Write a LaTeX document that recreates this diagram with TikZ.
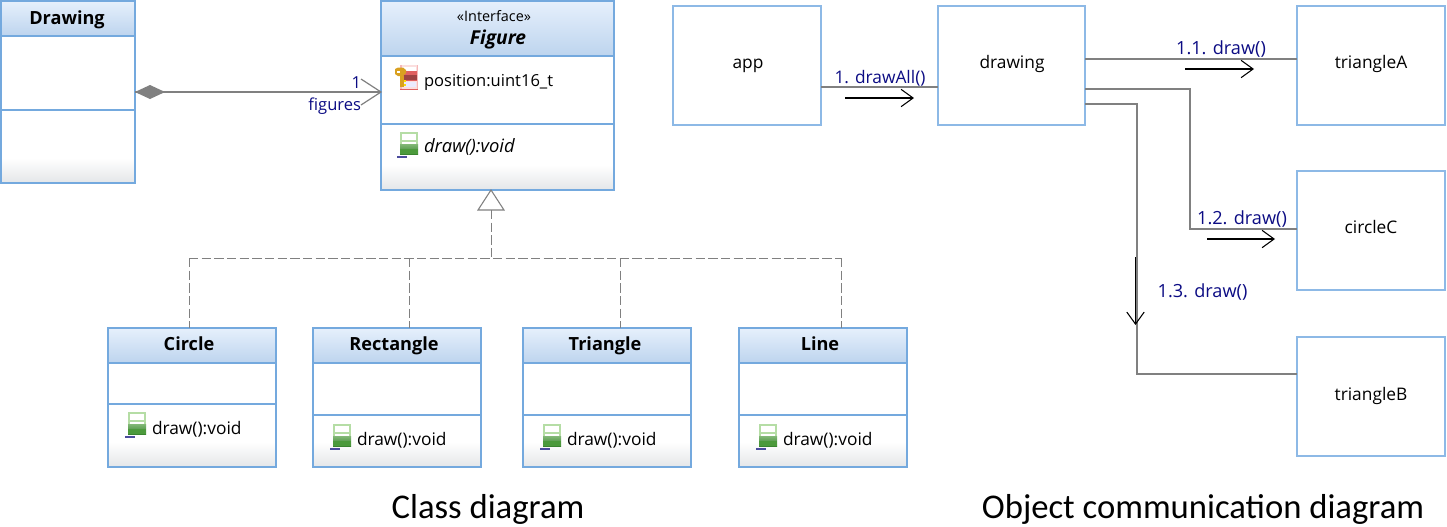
\documentclass[tikz,border=0pt]{standalone}
\usepackage{fontspec}
\setmainfont{Open Sans}
\newfontfamily\capfont{Carlito}
\usetikzlibrary{arrows.meta,calc}
\definecolor{boxblue}{HTML}{74A9DE}
\definecolor{objblue}{HTML}{8DB9E6}
\definecolor{headtop}{HTML}{E6F0FC}
\definecolor{headbot}{HTML}{BDD4EE}
\definecolor{footbot}{HTML}{E4E6E8}
\definecolor{linegray}{HTML}{808080}
\definecolor{labelblue}{HTML}{0C0C84}
\definecolor{iconpale}{HTML}{B5DDA5}
\definecolor{icongreen}{HTML}{4C9A3C}
\definecolor{icondark}{HTML}{3A8430}
\definecolor{iconred}{HTML}{E06060}
\definecolor{iconpink}{HTML}{F6B8B8}
\definecolor{icongold}{HTML}{D9A020}
\def\px{0.75pt}
\newcommand{\umlfont}{\fontsize{13pt}{15pt}\selectfont}
\newcommand{\umlmsg}{\fontsize{13.6pt}{15pt}\selectfont}
\newcommand{\umlpos}{\fontsize{12.4pt}{15pt}\selectfont}
\newcommand{\umlbold}{\fontsize{13.6pt}{15pt}\selectfont\bfseries}
\newcommand{\umlsmall}{\fontsize{10.8pt}{12pt}\selectfont}
\tikzset{
  box/.style={draw=boxblue,line width=1.5pt,inner sep=0pt,outer sep=0pt,anchor=north west},
  objbox/.style={draw=objblue,line width=1pt,inner sep=0pt,outer sep=0pt,anchor=north west,fill=white},
  txt/.style={inner sep=0pt,outer sep=0pt,font=\umlfont,text=black,anchor=base},
  lbl/.style={inner sep=0pt,outer sep=0pt,font=\umlmsg,text=labelblue,anchor=base},
  conn/.style={draw=linegray,line width=1pt},
  msg/.style={draw=black,line width=.9pt,-{Straight Barb[length=9pt,width=13pt,line width=.8pt]}},
  dash line/.style={draw=linegray,line width=.6pt,dash pattern=on 7pt off 2.5pt},
  captext/.style={inner sep=0pt,outer sep=0pt,font=\capfont\fontsize{26pt}{30pt}\selectfont,text=black,anchor=base}
}
% name, x1, y1, x2, y2, header bottom, divider, foot top
\newcommand{\classbox}[8]{%
  \fill[top color=white,bottom color=footbot] (#2,#8) rectangle (#4,#5);
  \fill[top color=headtop,bottom color=headbot] (#2,#3) rectangle (#4,#6);
  \draw[boxblue,line width=1.1pt] (#2,#6) -- (#4,#6);
  \draw[boxblue,line width=.9pt] (#2,#7) -- (#4,#7);
  \node[box,minimum width={(#4-#2)*\px},minimum height={(#5-#3)*\px}] (#1) at (#2,#3) {};
}
% operation icon, top-left corner at x,y
\newcommand{\opicon}[2]{%
  \begin{scope}[shift={(#1,#2)}]
    \fill[iconpale!40] (0,0) rectangle (18,6);
    \fill[white] (2,2) rectangle (16,6);
    \fill[iconpale] (0,0) rectangle (2,22);
    \fill[iconpale] (16,0) rectangle (18,22);
    \fill[iconpale] (0,8) rectangle (18,10);
    \fill[iconpale] (0,0) rectangle (18,1.5);
    \fill[top color=icongreen!70,bottom color=icondark] (0,12) rectangle (18,22);
    \fill[icongreen] (0,16.5) rectangle (18,22);
    \draw[blue!45!black!70!white,line width=.8pt] (-3,25) -- (7,25);
  \end{scope}}
\begin{document}
\begin{tikzpicture}[x=\px,y=-\px]
\useasboundingbox (0,0) rectangle (1447,526);
\fill[white] (0,0) rectangle (1447,526);
% classes
\classbox{drawingC}{1}{1}{135}{183}{36}{110}{158}
\node[txt,font=\umlbold] (drawingT) at (67,24) {Drawing};
\classbox{figure}{381}{1}{614}{190}{56}{124}{165}
\node[txt,font=\umlsmall] (stereo) at (494,21) {«Interface»};
\node[txt,font=\fontsize{14.4pt}{15pt}\selectfont\bfseries\itshape] (figureT) at (498,44) {Figure};
\node[txt,anchor=base west,font=\umlpos] (posT) at (424,86) {position:uint16\_t};
\node[txt,anchor=base west,font=\fontsize{13.8pt}{15pt}\selectfont\itshape] (drawF) at (424,152) {draw():void};
\begin{scope}[shift={(400,65)}]
  \fill[iconpink!45] (0,0) rectangle (18,25);
  \fill[white] (2,2) rectangle (16,6);
  \fill[iconred] (0,6) rectangle (18,16);
  \fill[iconred!70!black] (4,10) rectangle (18,15);
  \fill[blue!8] (2,17) rectangle (16,22);
  \fill[iconred] (0,24.2) rectangle (18,25.4);
  \fill[iconpink] (0,0) rectangle (1.5,24);
  \fill[iconpink] (16.5,0) rectangle (18,24);
  \fill[icongold] (-5,4) -- (-2,2.5) -- (3,2.5) -- (6,5) -- (6,8) -- (3,11) -- (-2,11) -- (-5,9) -- cycle;
  \fill[white] (-3,5.5) rectangle (0,7.5);
  \fill[icongold] (0,11) rectangle (3.5,22);
  \fill[yellow!80!orange] (3.5,14.5) rectangle (6,16.5);
  \fill[yellow!80!orange] (3.5,18.5) rectangle (6,20.5);
\end{scope}
\opicon{400}{132}
\classbox{circleK}{108}{328}{276}{467}{363}{404}{442}
\node[txt,font=\umlbold] (circleT) at (189,350) {Circle};
\opicon{128}{412}
\node[txt,anchor=base west] (drawC) at (152,434) {draw():void};
\classbox{rectK}{313}{328}{481}{467}{363}{415}{442}
\node[txt,font=\umlbold] (rectT) at (394,350) {Rectangle};
\opicon{333}{424}
\node[txt,anchor=base west] (drawR) at (357,445) {draw():void};
\classbox{triK}{523}{328}{691}{467}{363}{415}{442}
\node[txt,font=\umlbold] (triT) at (605,350) {Triangle};
\opicon{543}{424}
\node[txt,anchor=base west] (drawT) at (567,445) {draw():void};
\classbox{lineK}{739}{328}{907}{467}{363}{415}{442}
\node[txt,font=\umlbold] (lineT) at (820,350) {Line};
\opicon{759}{424}
\node[txt,anchor=base west] (drawL) at (783,445) {draw():void};
% composition
\coordinate (cA) at (drawingC.east |- 0,92);
\coordinate (cB) at (figure.west |- 0,92);
\draw[linegray,line width=1.2pt] (cA) -- (cB);
\fill[linegray] (cA) -- ++(15,-7) -- ++(15,7) -- ++(-15,7) -- cycle;
\draw[linegray,line width=.9pt] ($(cB)+(-20,-13)$) -- (cB) -- ($(cB)+(-20,13)$);
\node[lbl,anchor=base east,font=\umlpos] (mult) at (361,88) {1};
\node[lbl,anchor=base east,font=\umlpos] (role) at (361,110) {figures};
% generalization
\coordinate (apex) at (figure.south -| 491,0);
\coordinate (base) at (491,210);
\coordinate (bus) at (491,258);
\draw[linegray,line width=.8pt,fill=white] (apex) -- (478,210) -- (504,210) -- cycle;
\draw[dash line] (base) -- (bus);
\draw[dash line] (189,258) -- (841,258);
\draw[dash line] (189,258) -- (circleK.north -| 189,0);
\draw[dash line] (409,258) -- (rectK.north -| 409,0);
\draw[dash line] (620,258) -- (triK.north -| 620,0);
\draw[dash line] (841,258) -- (lineK.north -| 841,0);
% objects
\node[objbox,minimum width={148*\px},minimum height={119*\px}] (app) at (673,6) {};
\node[objbox,minimum width={147*\px},minimum height={119*\px}] (drawing) at (938,6) {};
\node[objbox,minimum width={148*\px},minimum height={119*\px}] (triangleA) at (1297,6) {};
\node[objbox,minimum width={148*\px},minimum height={119*\px}] (circleC) at (1297,171) {};
\node[objbox,minimum width={148*\px},minimum height={119*\px}] (triangleB) at (1297,337) {};
\node[txt] (appT) at (748,68) {app};
\node[txt] (drawingO) at (1012,68) {drawing};
\node[txt] (triAT) at (1371,68) {triangleA};
\node[txt] (cirT) at (1371,233) {circleC};
\node[txt] (triBT) at (1371,400) {triangleB};
% links
\draw[conn] (app.east |- 0,87) -- (drawing.west |- 0,87);
\draw[conn] (drawing.east |- 0,59) -- (triangleA.west |- 0,59);
\draw[conn] (drawing.east |- 0,89) -- (1190,89) -- (1190,229) -- (circleC.west |- 0,229);
\draw[conn] (drawing.east |- 0,104) -- (1137,104) -- (1137,374) -- (triangleB.west |- 0,374);
% messages
\coordinate (m0a) at (845,98); \coordinate (m0b) at (914,98);
\coordinate (m1a) at (1185,69); \coordinate (m1b) at (1254,69);
\coordinate (m2a) at (1207,239); \coordinate (m2b) at (1275,239);
\coordinate (m3a) at (1135.5,257); \coordinate (m3b) at (1135.5,325);
\draw[msg] (m0a) -- (m0b);
\draw[msg] (m1a) -- (m1b);
\draw[msg] (m2a) -- (m2b);
\draw[msg] (m3a) -- (m3b);
\node[lbl,font=\umlfont] (l0) at (880,83) {1. drawAll()};
\node[lbl] (l1) at (1221,54) {1.1. draw()};
\node[lbl] (l2) at (1242,224) {1.2. draw()};
\node[lbl] (l3) at (1202.5,297) {1.3. draw()};
% captions
\node[captext] (capA) at (488,518) {Class diagram};
\node[captext] (capB) at (1203,518) {Object communication diagram};
\end{tikzpicture}
\end{document}
